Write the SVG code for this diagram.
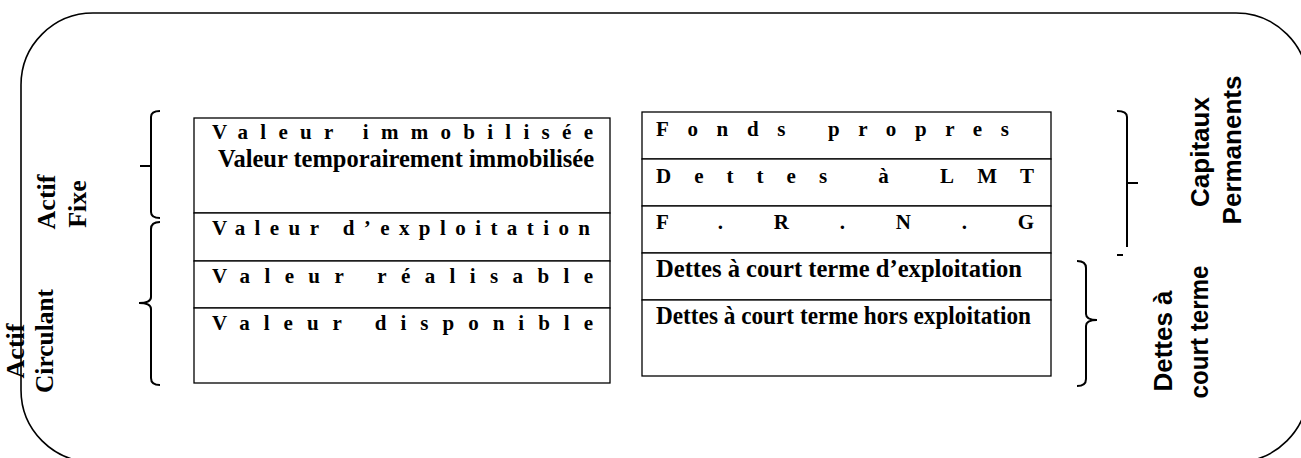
<svg xmlns="http://www.w3.org/2000/svg" width="1301" height="458" viewBox="0 0 1301 458">
<style>
.cell{fill:#fff;stroke:#000;stroke-width:1.3}
.sp{font-family:"Liberation Serif","Times New Roman",serif;font-weight:bold;font-size:21px;fill:#000}
.cd{font-family:"Liberation Serif","Times New Roman",serif;font-weight:bold;font-size:25px;fill:#000}
.vl{font-family:"Liberation Serif","Times New Roman",serif;font-weight:bold;font-size:26px;fill:#000}
.vr{font-family:"Liberation Sans",Arial,sans-serif;font-weight:bold;font-size:26px;fill:#000}
.br{fill:none;stroke:#000;stroke-width:2}
</style>
<rect width="1301" height="458" fill="#fff"/>
<g id="frame"><rect x="21" y="13" width="1287" height="449" rx="72" ry="72" fill="none" stroke="#000" stroke-width="1.6"/></g>

<g id="left-table">
  <g id="valeur-immobilisee">
    <rect class="cell" x="194" y="118" width="416" height="95"/>
    <text class="sp" x="212" y="139" textLength="381" lengthAdjust="spacing">Valeur immobilisée</text>
    <text class="cd" x="218" y="167" textLength="376" lengthAdjust="spacingAndGlyphs">Valeur temporairement immobilisée</text>
  </g>
  <g id="valeur-exploitation">
    <rect class="cell" x="194" y="213" width="416" height="48"/>
    <text class="sp" x="212" y="235" textLength="378" lengthAdjust="spacing">Valeur d’exploitation</text>
  </g>
  <g id="valeur-realisable">
    <rect class="cell" x="194" y="261" width="416" height="47"/>
    <text class="sp" x="212" y="283" textLength="381" lengthAdjust="spacing">Valeur réalisable</text>
  </g>
  <g id="valeur-disponible">
    <rect class="cell" x="194" y="308" width="416" height="75"/>
    <text class="sp" x="212" y="330" textLength="381" lengthAdjust="spacing">Valeur disponible</text>
  </g>
</g>

<g id="right-table">
  <g id="fonds-propres">
    <rect class="cell" x="642" y="112" width="409" height="47"/>
    <text class="sp" x="656" y="136" textLength="353" lengthAdjust="spacing">Fonds propres</text>
  </g>
  <g id="dettes-lmt">
    <rect class="cell" x="642" y="159" width="409" height="47"/>
    <text class="sp" x="656" y="183" textLength="378" lengthAdjust="spacing">Dettes à LMT</text>
  </g>
  <g id="frng">
    <rect class="cell" x="642" y="206" width="409" height="47"/>
    <text class="sp" x="656" y="229" textLength="378" lengthAdjust="spacing">F.R.N.G</text>
  </g>
  <g id="dettes-ct-exploitation">
    <rect class="cell" x="642" y="253" width="409" height="47"/>
    <text class="cd" x="656" y="277" textLength="366" lengthAdjust="spacingAndGlyphs">Dettes à court terme d’exploitation</text>
  </g>
  <g id="dettes-ct-hors">
    <rect class="cell" x="642" y="300" width="409" height="76"/>
    <text class="cd" x="656" y="324" textLength="375" lengthAdjust="spacingAndGlyphs">Dettes à court terme hors exploitation</text>
  </g>
</g>

<g id="label-actif-fixe">
  <text class="vl" transform="translate(55,202) rotate(-90)" text-anchor="middle">Actif</text>
  <text class="vl" transform="translate(86,204) rotate(-90)" text-anchor="middle">Fixe</text>
</g>
<g id="label-actif-circulant">
  <text class="vl" transform="translate(24,351) rotate(-90)" text-anchor="middle">Actif</text>
  <text class="vl" transform="translate(53,341) rotate(-90)" text-anchor="middle" textLength="104" lengthAdjust="spacingAndGlyphs">Circulant</text>
</g>
<g id="label-capitaux-permanents">
  <text class="vr" transform="translate(1209,152) rotate(-90)" text-anchor="middle">Capitaux</text>
  <text class="vr" transform="translate(1241,150) rotate(-90)" text-anchor="middle">Permanents</text>
</g>
<g id="label-dettes-court-terme">
  <text class="vr" transform="translate(1172,341) rotate(-90)" text-anchor="middle">Dettes à</text>
  <text class="vr" transform="translate(1208,332) rotate(-90)" text-anchor="middle" textLength="133" lengthAdjust="spacingAndGlyphs">court terme</text>
</g>

<g id="connectors">
  <path class="br" d="M160,111 Q151,111 151,117 L151,212 Q151,218 160,218 M140,166 L151,166"/>
  <path class="br" d="M160,222 Q151,222 151,229 L151,297 Q151,303 139,303 Q151,303 151,309 L151,378 Q151,385 160,385"/>
  <path class="br" d="M1117,111 Q1127,111 1127,117 L1127,247 M1127,183 L1138,183 M1117,255 L1123,255"/>
  <path class="br" d="M1077,261 Q1086,261 1086,268 L1086,314 Q1086,320 1097,320 Q1086,320 1086,326 L1086,379 Q1086,386 1077,386"/>
</g>
</svg>
